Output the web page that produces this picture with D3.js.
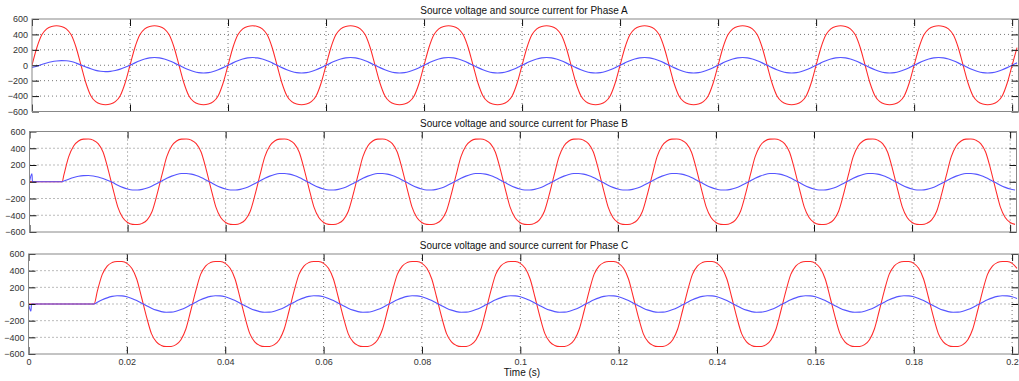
<html>
<head>
<meta charset="UTF-8">
<title>Source voltage and current</title>
<style>
  body { margin: 0; background: #fff; }
  .tick text { font: 9px "Liberation Sans", Arial, sans-serif; fill: #333; }
  .title, .xlabel { font: 10px "Liberation Sans", Arial, sans-serif; fill: #111; }
  .grid line { stroke: #777; stroke-width: 1; stroke-dasharray: 1,3; }
  .frame { fill: none; stroke: #888; stroke-width: 1; }
  .volt { fill: none; stroke: #ff2a2a; stroke-width: 1.05; }
  .curr { fill: none; stroke: #5555ff; stroke-width: 1.15; }
</style>
<script src="https://cdn.jsdelivr.net/npm/d3@7"></script>
</head>
<body>
<script>
// ---- data (one sample per millisecond) ----
var sampleStep = 0.001;
var titles = ["Source voltage and source current for Phase A",
              "Source voltage and source current for Phase B",
              "Source voltage and source current for Phase C"];
var yTicks = [-600, -400, -200, 0, 200, 400, 600];
var xTicks = [0, 0.02, 0.04, 0.06, 0.08, 0.1, 0.12, 0.14, 0.16, 0.18, 0.2];
var xTickLabels = ["0", "0.02", "0.04", "0.06", "0.08", "0.1", "0.12", "0.14", "0.16", "0.18", "0.2"];
var xLabel = "Time (s)";

var voltA = [
  0,230,395,473,504,512,504,473,395,230,0,-230,-395,-473,-504,-512,-504,-473,-395,-230,
  0,230,395,473,504,512,504,473,395,230,0,-230,-395,-473,-504,-512,-504,-473,-395,-230,
  0,230,395,473,504,512,504,473,395,230,0,-230,-395,-473,-504,-512,-504,-473,-395,-230,
  0,230,395,473,504,512,504,473,395,230,0,-230,-395,-473,-504,-512,-504,-473,-395,-230,
  0,230,395,473,504,512,504,473,395,230,0,-230,-395,-473,-504,-512,-504,-473,-395,-230,
  0,230,395,473,504,512,504,473,395,230,0,-230,-395,-473,-504,-512,-504,-473,-395,-230,
  0,230,395,473,504,512,504,473,395,230,0,-230,-395,-473,-504,-512,-504,-473,-395,-230,
  0,230,395,473,504,512,504,473,395,230,0,-230,-395,-473,-504,-512,-504,-473,-395,-230,
  0,230,395,473,504,512,504,473,395,230,0,-230,-395,-473,-504,-512,-504,-473,-395,-230,
  0,230,395,473,504,512,504,473,395,230,0,-230,-395,-473,-504,-512,-504,-473,-395,-230,
  0,230
];
var currA = [
  -30,-12,10,30,45,55,60,58,48,28,3,-22,-46,-66,-78,-83,-80,-68,-50,-26,
  0,31,59,81,95,100,95,81,59,31,0,-31,-59,-81,-95,-100,-95,-81,-59,-31,
  0,31,59,81,95,100,95,81,59,31,0,-31,-59,-81,-95,-100,-95,-81,-59,-31,
  0,31,59,81,95,100,95,81,59,31,0,-31,-59,-81,-95,-100,-95,-81,-59,-31,
  0,31,59,81,95,100,95,81,59,31,0,-31,-59,-81,-95,-100,-95,-81,-59,-31,
  0,31,59,81,95,100,95,81,59,31,0,-31,-59,-81,-95,-100,-95,-81,-59,-31,
  0,31,59,81,95,100,95,81,59,31,0,-31,-59,-81,-95,-100,-95,-81,-59,-31,
  0,31,59,81,95,100,95,81,59,31,0,-31,-59,-81,-95,-100,-95,-81,-59,-31,
  0,31,59,81,95,100,95,81,59,31,0,-31,-59,-81,-95,-100,-95,-81,-59,-31,
  0,31,59,81,95,100,95,81,59,31,0,-31,-59,-81,-95,-100,-95,-81,-59,-31,
  0,31
];

var voltB = [
  0,0,0,0,0,0,0,
  78,300,428,487,509,511,497,455,355,155,-78,-300,-428,-487,-509,-511,-497,-455,-355,-155,
  78,300,428,487,509,511,497,455,355,155,-78,-300,-428,-487,-509,-511,-497,-455,-355,-155,
  78,300,428,487,509,511,497,455,355,155,-78,-300,-428,-487,-509,-511,-497,-455,-355,-155,
  78,300,428,487,509,511,497,455,355,155,-78,-300,-428,-487,-509,-511,-497,-455,-355,-155,
  78,300,428,487,509,511,497,455,355,155,-78,-300,-428,-487,-509,-511,-497,-455,-355,-155,
  78,300,428,487,509,511,497,455,355,155,-78,-300,-428,-487,-509,-511,-497,-455,-355,-155,
  78,300,428,487,509,511,497,455,355,155,-78,-300,-428,-487,-509,-511,-497,-455,-355,-155,
  78,300,428,487,509,511,497,455,355,155,-78,-300,-428,-487,-509,-511,-497,-455,-355,-155,
  78,300,428,487,509,511,497,455,355,155,-78,-300,-428,-487,-509,-511,-497,-455,-355,-155,
  78,300,428,487,509,511,497,455,355,155,-78,-300,-428,-487,-509
];
var currB = [
  0,0,0,0,0,0,0,
  8,30,50,65,73,75,69,56,38,16,
  -10,-41,-67,-87,-98,-99,-91,-74,-50,-21,
  10,41,67,87,98,99,91,74,50,21,-10,-41,-67,-87,-98,-99,-91,-74,-50,-21,
  10,41,67,87,98,99,91,74,50,21,-10,-41,-67,-87,-98,-99,-91,-74,-50,-21,
  10,41,67,87,98,99,91,74,50,21,-10,-41,-67,-87,-98,-99,-91,-74,-50,-21,
  10,41,67,87,98,99,91,74,50,21,-10,-41,-67,-87,-98,-99,-91,-74,-50,-21,
  10,41,67,87,98,99,91,74,50,21,-10,-41,-67,-87,-98,-99,-91,-74,-50,-21,
  10,41,67,87,98,99,91,74,50,21,-10,-41,-67,-87,-98,-99,-91,-74,-50,-21,
  10,41,67,87,98,99,91,74,50,21,-10,-41,-67,-87,-98,-99,-91,-74,-50,-21,
  10,41,67,87,98,99,91,74,50,21,-10,-41,-67,-87,-98,-99,-91,-74,-50,-21,
  10,41,67,87,98,99,91,74,50,21,-10,-41,-67,-87,-98
];

var voltC = [
  0,0,0,0,0,0,0,0,0,0,0,0,0,0,
  155,355,455,497,511,509,487,428,300,78,-155,-355,-455,-497,-511,-509,-487,-428,-300,-78,
  155,355,455,497,511,509,487,428,300,78,-155,-355,-455,-497,-511,-509,-487,-428,-300,-78,
  155,355,455,497,511,509,487,428,300,78,-155,-355,-455,-497,-511,-509,-487,-428,-300,-78,
  155,355,455,497,511,509,487,428,300,78,-155,-355,-455,-497,-511,-509,-487,-428,-300,-78,
  155,355,455,497,511,509,487,428,300,78,-155,-355,-455,-497,-511,-509,-487,-428,-300,-78,
  155,355,455,497,511,509,487,428,300,78,-155,-355,-455,-497,-511,-509,-487,-428,-300,-78,
  155,355,455,497,511,509,487,428,300,78,-155,-355,-455,-497,-511,-509,-487,-428,-300,-78,
  155,355,455,497,511,509,487,428,300,78,-155,-355,-455,-497,-511,-509,-487,-428,-300,-78,
  155,355,455,497,511,509,487,428,300,78,-155,-355,-455,-497,-511,-509,-487,-428,-300,-78,
  155,355,455,497,511,509,487,428
];
var currC = [
  0,0,0,0,0,0,0,0,0,0,0,0,0,0,
  21,50,74,91,99,98,87,67,41,10,-21,-50,-74,-91,-99,-98,-87,-67,-41,-10,
  21,50,74,91,99,98,87,67,41,10,-21,-50,-74,-91,-99,-98,-87,-67,-41,-10,
  21,50,74,91,99,98,87,67,41,10,-21,-50,-74,-91,-99,-98,-87,-67,-41,-10,
  21,50,74,91,99,98,87,67,41,10,-21,-50,-74,-91,-99,-98,-87,-67,-41,-10,
  21,50,74,91,99,98,87,67,41,10,-21,-50,-74,-91,-99,-98,-87,-67,-41,-10,
  21,50,74,91,99,98,87,67,41,10,-21,-50,-74,-91,-99,-98,-87,-67,-41,-10,
  21,50,74,91,99,98,87,67,41,10,-21,-50,-74,-91,-99,-98,-87,-67,-41,-10,
  21,50,74,91,99,98,87,67,41,10,-21,-50,-74,-91,-99,-98,-87,-67,-41,-10,
  21,50,74,91,99,98,87,67,41,10,-21,-50,-74,-91,-99,-98,-87,-67,-41,-10,
  21,50,74,91,99,98,87,67
];

// breaker switching instants and start-up spikes, [time, value]
var extraVoltA = [];
var extraCurrA = [];
var extraVoltB = [[0.00667, 0]];
var extraCurrB = [[0.0005, 95], [0.0006, 0], [0.00667, 0]];
var extraVoltC = [[0.01333, 0]];
var extraCurrC = [[0.0005, -85], [0.0006, 0], [0.01333, 0]];

/* ==== layout ==== */
var width = 1019, height = 381;
var tMax = 0.2013;
var boxes = [
  {left: 32,   right: 1018.5, top: 19,  bottom: 111.5},
  {left: 29.5, right: 1016.5, top: 131.5, bottom: 232},
  {left: 28.5, right: 1018.5, top: 254, bottom: 354}
];
var panels = [
  {title: titles[0], volt: voltA, curr: currA, extraV: extraVoltA, extraI: extraCurrA},
  {title: titles[1], volt: voltB, curr: currB, extraV: extraVoltB, extraI: extraCurrB},
  {title: titles[2], volt: voltC, curr: currC, extraV: extraVoltC, extraI: extraCurrC}
];

function toPoints(values, extra) {
  var pts = values.map(function(v, i) { return [i * sampleStep, v]; });
  pts = pts.concat(extra);
  pts.sort(function(a, b) { return a[0] - b[0]; });
  return pts;
}

var svg = d3.select("body").append("svg")
    .attr("width", width)
    .attr("height", height);

panels.forEach(function(p, k) {
  var b = boxes[k];
  var x = d3.scaleLinear().domain([0, tMax]).range([b.left, b.right]);
  var y = d3.scaleLinear().domain([-600, 600]).range([b.bottom, b.top]);
  var g = svg.append("g");

  g.append("clipPath").attr("id", "clip" + k)
    .append("rect")
    .attr("x", b.left).attr("y", b.top)
    .attr("width", b.right - b.left).attr("height", b.bottom - b.top);

  // dotted grid
  var grid = g.append("g").attr("class", "grid");
  grid.selectAll(".gy").data(yTicks.slice(1, -1)).enter().append("line")
    .attr("x1", b.left).attr("x2", b.right)
    .attr("y1", function(d) { return y(d); }).attr("y2", function(d) { return y(d); });
  grid.selectAll(".gx").data(xTicks.slice(1)).enter().append("line")
    .attr("y1", b.top).attr("y2", b.bottom)
    .attr("x1", function(d) { return x(d); }).attr("x2", function(d) { return x(d); });

  // traces
  var line = d3.line()
    .x(function(d) { return x(d[0]); })
    .y(function(d) { return y(d[1]); })
    .curve(d3.curveMonotoneX);
  var traces = g.append("g").attr("clip-path", "url(#clip" + k + ")");
  traces.append("path").attr("class", "volt").attr("d", line(toPoints(p.volt, p.extraV)));
  traces.append("path").attr("class", "curr").attr("d", line(toPoints(p.curr, p.extraI)));

  // axes, ticks pointing inward
  var fmt = function(d) { return xTickLabels[xTicks.indexOf(d)]; };
  g.append("g").attr("transform", "translate(" + b.left + ",0)")
    .call(d3.axisLeft(y).tickValues(yTicks).tickSize(-7).tickPadding(4));
  g.append("g").attr("transform", "translate(" + b.right + ",0)")
    .call(d3.axisRight(y).tickValues(yTicks).tickSize(-7).tickFormat(""));
  g.append("g").attr("transform", "translate(0," + b.top + ")")
    .call(d3.axisTop(x).tickValues(xTicks).tickSize(-7).tickFormat(""));
  var bottomAxis = d3.axisBottom(x).tickValues(xTicks).tickSize(-7).tickPadding(5)
    .tickFormat(k === 2 ? fmt : "");
  g.append("g").attr("transform", "translate(0," + b.bottom + ")").call(bottomAxis);
  g.selectAll(".domain").remove();
  g.selectAll(".tick line").attr("stroke", "#111");

  g.append("rect").attr("class", "frame")
    .attr("x", b.left).attr("y", b.top)
    .attr("width", b.right - b.left).attr("height", b.bottom - b.top);

  g.append("text").attr("class", "title")
    .attr("x", 524).attr("y", b.top - 5)
    .attr("text-anchor", "middle")
    .text(p.title);
});

svg.append("text").attr("class", "xlabel")
  .attr("x", 522).attr("y", 376)
  .attr("text-anchor", "middle")
  .text(xLabel);
</script>
</body>
</html>
